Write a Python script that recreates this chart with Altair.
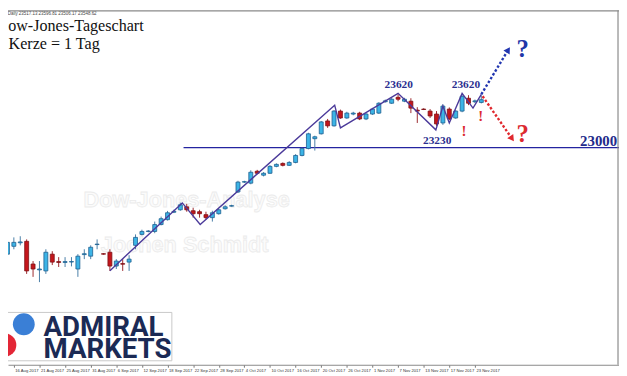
import altair as alt
import pandas as pd

# ---------------- data ----------------
idx = list(range(-1, 74))
opens = [21780, 21870, 21910, 21927, 21667, 21600, 21588, 21780, 21695, 21685,
         21690, 21610, 21775, 21757, 21890, 21785, 21802, 21644, 21672, 21689,
         21881, 22006, 22040, 22040, 22119, 22175, 22260, 22288, 22322, 22277,
         22266, 22232, 22198, 22243, 22300, 22330, 22492, 22605, 22593, 22729,
         22684, 22706, 22785, 22819, 22797, 22830, 22910, 22989, 23102, 23158,
         23305, 23249, 23418, 23339, 23384, 23395, 23328, 23384, 23395, 23525,
         23508, 23576, 23531, 23531, 23429, 23441, 23418, 23384, 23282, 23441,
         23339, 23418, 23565, 23525, 23517]
highs = [21972, 21972, 21985, 21949, 21701, 21701, 21836, 21814, 21746, 21746,
         21746, 21780, 21836, 21881, 21949, 21790, 21836, 21723, 21723, 21768,
         22006, 22060, 22055, 22153, 22210, 22275, 22290, 22370, 22356, 22311,
         22288, 22266, 22277, 22300, 22340, 22345, 22620, 22620, 22740, 22745,
         22720, 22800, 22820, 22830, 22845, 22925, 23000, 23170, 23136, 23305,
         23328, 23430, 23435, 23410, 23410, 23410, 23395, 23455, 23520, 23550,
         23570, 23610, 23570, 23565, 23463, 23450, 23441, 23418, 23497, 23460,
         23430, 23600, 23600, 23550, 23597]
lows = [21746, 21836, 21881, 21554, 21520, 21460, 21554, 21655, 21633, 21633,
        21640, 21520, 21723, 21723, 21836, 21775, 21588, 21610, 21588, 21588,
        21836, 21995, 22030, 22020, 22110, 22165, 22250, 22277, 22266, 22198,
        22198, 22175, 22153, 22232, 22290, 22325, 22480, 22595, 22580, 22695,
        22670, 22700, 22775, 22785, 22790, 22820, 22900, 22980, 22966, 23150,
        23226, 23240, 23330, 23330, 23370, 23315, 23315, 23375, 23385, 23515,
        23500, 23531, 23520, 23395, 23282, 23430, 23339, 23249, 23260, 23315,
        23330, 23405, 23486, 23510, 23506]
closes = [21915, 21915, 21920, 21588, 21610, 21610, 21802, 21689, 21685, 21695,
          21695, 21757, 21785, 21859, 21895, 21780, 21644, 21701, 21665, 21723,
          21972, 22040, 22045, 22119, 22186, 22254, 22270, 22345, 22288, 22243,
          22243, 22198, 22254, 22288, 22322, 22335, 22605, 22610, 22718, 22706,
          22706, 22785, 22808, 22797, 22830, 22910, 22989, 23158, 23124, 23294,
          23249, 23418, 23339, 23395, 23395, 23328, 23384, 23441, 23508, 23535,
          23554, 23554, 23554, 23452, 23418, 23436, 23362, 23271, 23475, 23328,
          23418, 23588, 23508, 23535, 23549]

date_ticks = list(range(0, 73, 4))
date_labels = ["16 Aug 2017", "21 Aug 2017", "25 Aug 2017", "31 Aug 2017", "6 Sep 2017",
               "12 Sep 2017", "18 Sep 2017", "22 Sep 2017", "28 Sep 2017", "4 Oct 2017",
               "10 Oct 2017", "16 Oct 2017", "20 Oct 2017", "26 Oct 2017", "1 Nov 2017",
               "7 Nov 2017", "13 Nov 2017", "17 Nov 2017", "23 Nov 2017"]

zz_i = [15, 26.3, 29.1, 50.1, 51, 60, 65.9, 67, 68, 70, 71.7, 73]
zz_p = [21590, 22367, 22119, 23486, 23226, 23621, 23203, 23475, 23282, 23621, 23452, 23610]

level_price = 23000
level_from, level_to = 26.5, 94.5

arrow_blue_i = [73, 77.2]
arrow_blue_p = [23610, 24119]
arrow_red_i = [73.2, 77.8]
arrow_red_p = [23588, 23102]

peak_labels = ["23620", "23620", "23230"]
peak_i = [60.1, 70.6, 66.1]
peak_p = [23678, 23678, 23045]

# ---------------- frames ----------------
df = pd.DataFrame({"i": idx, "open": opens, "high": highs, "low": lows, "close": closes})
df["dir"] = ["up" if c >= o else "down" for o, c in zip(opens, closes)]

W, H = 619, 359
xs = alt.Scale(domain=[-0.913, 94.5], nice=False, zero=False, padding=0)
ys = alt.Scale(domain=[20514, 24571], nice=False, zero=False, padding=0)

label_expr = "[" + ",".join("'%s'" % d for d in date_labels) + "][round(datum.value/4)]"
xaxis = alt.Axis(values=date_ticks, labelExpr=label_expr, title=None, grid=False,
                 labelFontSize=4.2, labelFont="Liberation Sans", labelColor="#333333",
                 labelAlign="left", labelBaseline="top", labelPadding=1, labelOffset=1,
                 labelOverlap=False, labelFlush=False,
                 tickSize=2.5, tickColor="#777777", domainColor="#8a8a8a", domainWidth=1.2)


def X(f):
    return alt.X(f, type="quantitative", scale=xs, axis=xaxis)


def Y(f):
    return alt.Y(f, type="quantitative", scale=ys, axis=None)


one = pd.DataFrame({"k": [0]})

# watermark
wm = alt.Chart(pd.DataFrame({"t": ["Dow-Jones-Analyse", "Jochen Schmidt"],
                             "xx": [181, 179], "yy": [192, 238]})).mark_text(
    font="Liberation Sans", fontWeight="bold", fontSize=22, fill="#fbfbfb",
    stroke="#ebebeb", strokeWidth=0.8, align="center", baseline="middle").encode(
    x=alt.X("xx:Q", scale=None), y=alt.Y("yy:Q", scale=None), text="t:N")

level = alt.Chart(pd.DataFrame({"a": [level_from], "b": [level_to], "p": [level_price]})).mark_rule(
    color="#2424a0", strokeWidth=1.3).encode(x=X("a"), x2=alt.X2("b"), y=Y("p"))

wicks = alt.Chart(df).mark_rule(strokeWidth=1).encode(
    x=X("i"), y=Y("low"), y2=alt.Y2("high"),
    color=alt.Color("dir:N", scale=alt.Scale(domain=["up", "down"], range=["#4a7fa8", "#9c2a2e"]),
                    legend=None))

bodies = alt.Chart(df).mark_bar(size=4, strokeWidth=0.8).encode(
    x=X("i"), y=Y("open"), y2=alt.Y2("close"),
    fill=alt.Fill("dir:N", scale=alt.Scale(domain=["up", "down"], range=["#3cb4e6", "#c4161c"]),
                  legend=None),
    stroke=alt.Stroke("dir:N", scale=alt.Scale(domain=["up", "down"], range=["#1f5f8f", "#7d1015"]),
                      legend=None))

zz = alt.Chart(pd.DataFrame({"i": zz_i, "p": zz_p, "o": list(range(len(zz_i)))})).mark_line(
    color="#4b3a9a", strokeWidth=1.4).encode(x=X("i"), y=Y("p"), order="o:Q")

arr_b = alt.Chart(pd.DataFrame({"i": arrow_blue_i, "p": arrow_blue_p, "o": [0, 1]})).mark_line(
    color="#2236b0", strokeWidth=2.4, strokeDash=[2.5, 2]).encode(x=X("i"), y=Y("p"), order="o:Q")
arr_r = alt.Chart(pd.DataFrame({"i": arrow_red_i, "p": arrow_red_p, "o": [0, 1]})).mark_line(
    color="#e0282e", strokeWidth=2.4, strokeDash=[2.5, 2]).encode(x=X("i"), y=Y("p"), order="o:Q")
head_b = alt.Chart(pd.DataFrame({"i": arrow_blue_i[1:], "p": arrow_blue_p[1:]})).mark_point(
    shape="triangle-up", filled=True, size=55, color="#2236b0", angle=32, opacity=1).encode(
    x=X("i"), y=Y("p"))
head_r = alt.Chart(pd.DataFrame({"i": arrow_red_i[1:], "p": arrow_red_p[1:]})).mark_point(
    shape="triangle-up", filled=True, size=55, color="#e0282e", angle=145, opacity=1).encode(
    x=X("i"), y=Y("p"))

peaks = alt.Chart(pd.DataFrame({"t": peak_labels, "i": peak_i, "p": peak_p})).mark_text(
    font="Liberation Serif", fontWeight="bold", fontSize=11.5, color="#2b2f8f",
    align="center", baseline="alphabetic").encode(x=X("i"), y=Y("p"), text="t:N")

lvl_text = alt.Chart(pd.DataFrame({"t": ["23000"], "i": [94.2], "p": [23023]})).mark_text(
    font="Liberation Serif", fontWeight="bold", fontSize=15, color="#232a8a",
    align="right", baseline="alphabetic").encode(x=X("i"), y=Y("p"), text="t:N")

excl = alt.Chart(pd.DataFrame({"t": ["!", "!"], "i": [70.3, 72.9], "p": [23192, 23362]})).mark_text(
    font="Liberation Serif", fontWeight="bold", fontSize=15, color="#dc2a30",
    align="center", baseline="middle").encode(x=X("i"), y=Y("p"), text="t:N")

ques = alt.Chart(pd.DataFrame({"t": ["?", "?"], "i": [79.45, 79.45], "p": [24130, 23158],
                               "c": ["#1f37a8", "#dc2a30"]})).mark_text(
    font="Liberation Serif", fontWeight="bold", fontSize=25,
    align="center", baseline="middle").encode(x=X("i"), y=Y("p"), text="t:N",
                                              color=alt.Color("c:N", scale=None))

# titles (left part cropped like the original screenshot)
titles = alt.Chart(pd.DataFrame({"t": ["Dow-Jones-Tageschart", "1 Kerze = 1 Tag"],
                                 "xx": [-11.6, -11.6], "yy": [21, 39.5]})).mark_text(
    font="Liberation Serif", fontSize=16.3, color="#111111", align="left",
    baseline="alphabetic").encode(x=alt.X("xx:Q", scale=None), y=alt.Y("yy:Q", scale=None), text="t:N")

header = alt.Chart(pd.DataFrame({"t": ["DJ30,Daily  23517.13 23596.81 23506.17 23548.62"]})).mark_text(
    font="Liberation Sans", fontSize=4.5, color="#444444", align="left", baseline="middle").encode(
    x=alt.value(-12), y=alt.value(3.5), text="t:N")

# frame (top, right)
frame_top = alt.Chart(one).mark_rule(color="#8a8a8a", strokeWidth=1.5).encode(
    x=alt.value(0), x2=alt.value(W), y=alt.value(0.5))
frame_right = alt.Chart(one).mark_rule(color="#8a8a8a", strokeWidth=1.2).encode(
    x=alt.value(W - 1), y=alt.value(0), y2=alt.value(H))

# logo
logo_box = alt.Chart(one).mark_rect(fill="white", stroke="#c8c8c8", strokeWidth=1).encode(
    x=alt.value(-2), x2=alt.value(166), y=alt.value(306), y2=alt.value(355))
logo_blue = alt.Chart(one).mark_circle(size=490, color="#3a7fd6", opacity=1).encode(
    x=alt.value(16), y=alt.value(318))
logo_red = alt.Chart(one).mark_circle(size=570, color="#e32636", opacity=1).encode(
    x=alt.value(-3.5), y=alt.value(339))
logo_text = alt.Chart(one).mark_text(
    font="Roboto", fontWeight="bold", fontSize=28, color="#1b2a55", align="left",
    baseline="alphabetic", lineHeight=22).encode(
    x=alt.value(36), y=alt.value(330), text=alt.value(["ADMIRAL", "MARKETS"]))

chart = alt.layer(
    wm, level, wicks, bodies, zz, arr_b, arr_r, head_b, head_r,
    peaks, lvl_text, excl, ques, titles, header, frame_top, frame_right,
    logo_box, logo_blue, logo_red, logo_text
).properties(
    width=W, height=H,
    autosize=alt.AutoSizeParams(type="none"),
    padding={"left": 0, "top": 0, "right": 0, "bottom": 9},
    background="white"
).configure_view(stroke=None)

chart.save("out.html", embed_options={"renderer": "svg", "actions": False})
